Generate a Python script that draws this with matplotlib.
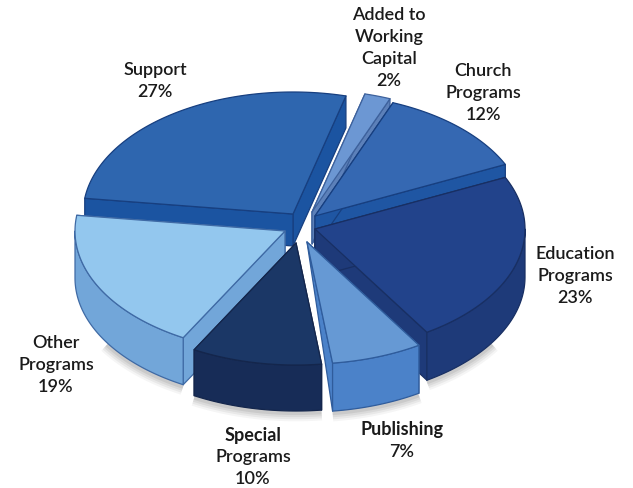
import numpy as np
import matplotlib
matplotlib.use("Agg")
import matplotlib.pyplot as plt
from matplotlib.patches import Polygon

# slices, clockwise starting from Support
names = ["Support", "Added to\nWorking\nCapital", "Church\nPrograms", "Education\nPrograms",
         "Publishing", "Special\nPrograms", "Other\nPrograms"]
values = [27, 2, 12, 23, 7, 10, 19]
heavy_lines = ["Publishing", "Special"]

top_colors = ["#2e66af", "#6c97d3", "#3568b2", "#22438b", "#6699d4", "#1b3766", "#93c7ee"]
side_colors = ["#1b54a1", "#5c80b9", "#1f56a3", "#1e3a79", "#4b82c9", "#172c57", "#72a6d9"]
edge_colors = ["#173f80", "#3d619c", "#173f80", "#182f63", "#2f5c9c", "#14264c", "#3f6aa5"]

# pixel layout of the exploded pie
apex_x = [293, 312, 315, 315, 307, 296, 285]
apex_y = [215, 213, 217, 230, 243, 244, 232]
rim_depth = [32, 32, 32, 48, 48, 46, 47]
cut_depth = [32, 32, 32, 48, 0, 0, 48]
RX, RY = 210, 122
START = 277.4

label_x = [155, 389, 483, 575, 402, 253, 56]
label_y = [81, 48, 93, 276, 441, 457, 365]
LINE_STEP = 22

plt.rcParams["font.family"] = ["Lato", "DejaVu Sans"]
fig = plt.figure(figsize=(6.33, 4.89), dpi=100)
ax = fig.add_axes([0, 0, 1, 1])
ax.set_xlim(0, 633)
ax.set_ylim(489, 0)
ax.axis("off")


def rim(cx, cy, t0, t1):
    t = np.radians(np.linspace(t0, t1, max(int(abs(t1 - t0)), 2) + 1))
    return np.column_stack([cx + RX * np.sin(t), cy - RY * np.cos(t)])


def patch(points, color, edge, z):
    ax.add_patch(Polygon(points, closed=True, facecolor=color, edgecolor=edge, linewidth=0.9,
                         joinstyle="round", zorder=z))


angles = START + np.concatenate([[0], np.cumsum(values)]) * 3.6

# back to front, so nearer slices cover the cut faces behind them
order = [0, 1, 2, 3, 6, 4, 5]
for z, i in enumerate(order):
    t0, t1 = angles[i], angles[i + 1]
    cx, cy = apex_x[i], apex_y[i]
    base = 10 + z * 5
    d = rim_depth[i]
    arc = rim(cx, cy, t0, t1)

    # cut face on the trailing and leading radii
    for end in (arc[-1], arc[0]):
        face = [(cx, cy), end, (end[0], end[1] + d), (cx, cy + cut_depth[i])]
        patch(face, side_colors[i], edge_colors[i], base)

    # outer wall, only the part of the rim that faces the viewer (angles run past 360 here)
    lo, hi = max(t0, 450), min(t1, 630)
    if hi > lo:
        wall = rim(cx, cy, lo, hi)
        low = wall[::-1] + [0, d]
        patch(np.vstack([wall, low]), side_colors[i], edge_colors[i], base + 1)
        # soft shadow under the wall, left out near the silhouette ends
        shade = low[np.abs(low[:, 0] - cx) < 0.85 * RX]
        for lw, alpha in zip([12, 9, 6, 3], [0.04, 0.05, 0.06, 0.07]):
            ax.plot(shade[:, 0], shade[:, 1] + 2, color="black", lw=lw, alpha=alpha,
                    solid_capstyle="butt", zorder=1)

    patch(np.vstack([[(cx, cy)], arc]), top_colors[i], edge_colors[i], base + 2)

for i, name in enumerate(names):
    lines = name.split("\n") + [f"{values[i]}%"]
    for k, line in enumerate(lines):
        y = label_y[i] + (k - (len(lines) - 1) / 2) * LINE_STEP
        ax.text(label_x[i], y, line, ha="center", va="center", fontsize=13,
                fontweight="bold" if line in heavy_lines else "semibold",
                color="#1a1a1a", zorder=60)

fig.savefig("out.png", dpi=100)
